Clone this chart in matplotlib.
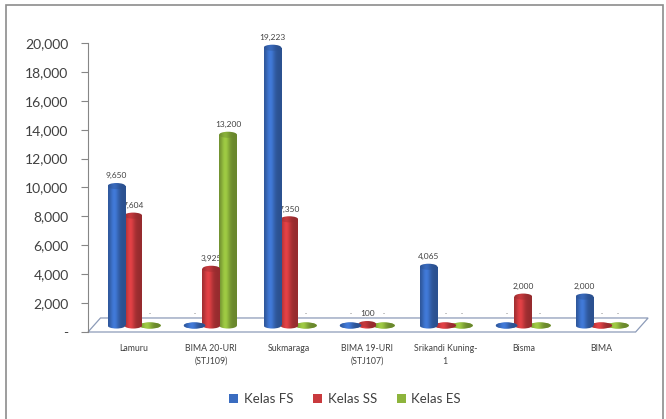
import numpy as np
import matplotlib.pyplot as plt
from matplotlib.patches import Rectangle, Ellipse, Polygon, Patch
from matplotlib.colors import to_rgb

plt.rcParams['font.family'] = ['Lato', 'DejaVu Sans']

categories = ["Lamuru", "BIMA 20-URI\n(STJ109)", "Sukmaraga", "BIMA 19-URI\n(STJ107)",
              "Srikandi Kuning-\n1", "Bisma", "BIMA"]
series_names = ["Kelas FS", "Kelas SS", "Kelas ES"]
kelas_fs = [9650, 0, 19223, 0, 4065, 0, 2000]
kelas_ss = [7604, 3925, 7350, 100, 0, 2000, 0]
kelas_es = [0, 13200, 0, 0, 0, 0, 0]
colors = ["#3a6cc0", "#c93a3e", "#8db43c"]

txt = "#404040"
depth = 450      # lift of the bar bases onto the floor
cap_h = 420      # height of the elliptical caps in data units
width = 0.23
offsets = [-0.215, 0.0, 0.215]


def gradient(color, n=64, light=1.0):
    base = np.array(to_rgb(color))
    t = np.linspace(0, 1, n)
    f = 0.75 + 0.38 * light * np.exp(-((t - 0.35) / 0.25) ** 2)
    rgb = base[None, :] * f[:, None]
    over = np.clip(rgb.max(axis=1) - 1, 0, None)[:, None]
    rgb = np.clip(rgb, 0, 1) * (1 - over) + over
    return np.clip(rgb, 0, 1)[None, :, :]


fig = plt.figure(figsize=(6.66, 4.19), dpi=100)
ax = fig.add_axes([88 / 666, 87 / 419, 564 / 666, 289 / 419])

# floor of the 3d plot area
floor = Polygon([(-0.58, 0), (6.44, 0), (6.6, 970), (-0.42, 970)], closed=True,
                facecolor="white", edgecolor="#8c9bb8", lw=0.9, zorder=1, clip_on=False)
ax.add_patch(floor)


def cylinder(x, v, color, z):
    left, right = x - width / 2, x + width / 2
    if v <= 0:
        dw = width * 1.2
        disc = Ellipse((x, depth), dw, cap_h, facecolor=color, edgecolor="none",
                       zorder=z, clip_on=False)
        ax.add_patch(disc)
        im = ax.imshow(gradient(color), extent=(x - dw / 2, x + dw / 2, depth - cap_h, depth + cap_h),
                       aspect="auto", zorder=z, interpolation="bilinear")
        im.set_clip_path(disc)
        return
    top = depth + v
    body = Rectangle((left, depth), width, v, facecolor="none", edgecolor="none", zorder=z)
    bottom = Ellipse((x, depth), width, cap_h, facecolor="none", edgecolor="none", zorder=z)
    cap = Ellipse((x, top), width, cap_h, facecolor="none", edgecolor="none", zorder=z)
    for p in (body, bottom, cap):
        ax.add_patch(p)
    im = ax.imshow(gradient(color), extent=(left, right, depth, top), aspect="auto",
                   zorder=z, interpolation="bilinear")
    im.set_clip_path(body)
    im = ax.imshow(gradient(color), extent=(left, right, depth - cap_h, depth + cap_h),
                   aspect="auto", zorder=z, interpolation="bilinear")
    im.set_clip_path(bottom)
    im = ax.imshow(gradient(color, light=0.6), extent=(left, right, top - cap_h, top + cap_h),
                   aspect="auto", zorder=z + 0.01, interpolation="bilinear")
    im.set_clip_path(cap)


x = np.arange(len(categories))
for k, vals in enumerate([kelas_fs, kelas_ss, kelas_es]):
    for i, v in enumerate(vals):
        xi = x[i] + offsets[k]
        cylinder(xi, v, colors[k], 3 + 0.1 * (2 - k))
        if v == 0:
            ax.text(xi, depth + 800, "-", ha="center", va="center",
                    fontsize=4, color=txt, zorder=2.5)
        else:
            ax.text(xi, depth + v + 700, f"{v:,}", ha="center", va="center",
                    fontsize=6, color=txt, zorder=2.5)

ax.set_xlim(-0.58, 6.65)
ax.set_ylim(0, 20000)
ax.set_yticks(np.arange(0, 20001, 2000))
ax.set_yticklabels(["-"] + [f"{t:,}" for t in range(2000, 20001, 2000)])
ax.tick_params(axis="y", length=5, width=0.8, color="#868686", pad=9,
               labelsize=10, labelcolor=txt)
ax.set_xticks([])
for s in ["top", "right", "bottom"]:
    ax.spines[s].set_visible(False)
ax.spines["left"].set_color("#868686")
ax.spines["left"].set_linewidth(0.8)
ax.patch.set_alpha(0)

for i, c in enumerate(categories):
    ax.text(x[i], -800, c, ha="center", va="top", fontsize=6.3, color=txt,
            linespacing=1.6, clip_on=False)

handles = [Patch(facecolor=c, edgecolor="none") for c in colors]
fig.legend(handles, series_names, loc="center", bbox_to_anchor=(345 / 666, 20 / 419),
           ncol=3, frameon=False, fontsize=9.5, labelcolor=txt, handlelength=0.7,
           handleheight=0.7, handletextpad=0.4, columnspacing=1.5)

# outer frame
fig.patches.append(Rectangle((6 / 666, -0.02), 657 / 666, 1.02 - 5 / 419,
                             transform=fig.transFigure, fill=False,
                             edgecolor="#8c8c8c", lw=1.2))

fig.savefig("out.png", dpi=100)
